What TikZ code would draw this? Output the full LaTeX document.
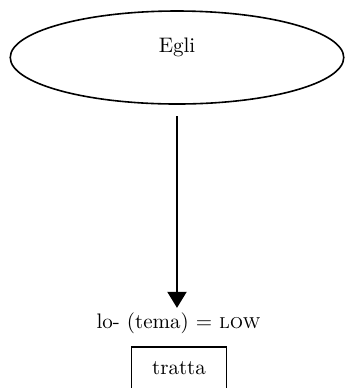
\documentclass[tikz,border=0pt]{standalone}
\usetikzlibrary{shapes.geometric,arrows.meta}

\tikzset{
  soggetto/.style={ellipse, draw, line width=0.8pt, inner sep=0pt,
    minimum width=166.75pt, minimum height=46.5pt,
    text height=7.3pt, text depth=12.8pt},
  verbo/.style={rectangle, draw, line width=0.6pt, inner sep=0pt, outer sep=0pt,
    minimum width=47.5pt, text height=13.5pt, text depth=13pt},
  freccia/.style={line width=1pt, -{Triangle[width=9.5pt,length=8pt]}}
}

\begin{document}
\begin{tikzpicture}[x=0.5pt, y=-0.5pt, font=\fontsize{10.5}{12.6}\selectfont]
    \useasboundingbox (0,0) rectangle (345,388);
    \clip (0,0) rectangle (345,388);

    % soggetto nell'ellisse
    \node[soggetto] (egli) at (177,57.5) {Egli};

    % regola sopra il verbo
    \node[anchor=base, inner sep=0pt] (regola) at (178.5,328) {lo- (tema) = \textsc{low}};

    % verbo nel riquadro (tagliato in basso)
    \node[verbo, anchor=north] (tratta) at (179,347) {tratta};

    % freccia dal soggetto alla regola
    \draw[freccia, shorten <=5.75pt, shorten >=2pt] (egli.south) -- (egli.south |- regola.north);

\end{tikzpicture}
\end{document}
